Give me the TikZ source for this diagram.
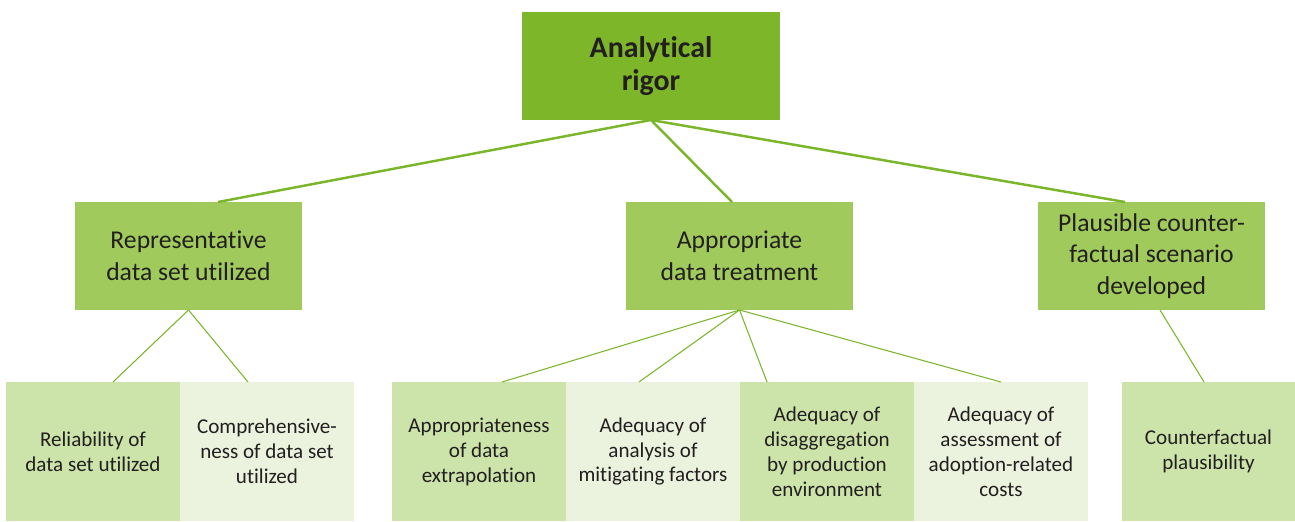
\documentclass[tikz,border=0pt]{standalone}
\usepackage{fontspec}
\setmainfont{Carlito}[Ligatures=NoCommon]
\usepackage{tikz}
\usetikzlibrary{shapes,positioning,calc}

\definecolor{rigorgreen}{HTML}{7DB729}
\definecolor{midgreen}{HTML}{A0CA5C}
\definecolor{lowdark}{HTML}{CCE3AA}
\definecolor{lowlight}{HTML}{EBF2DE}
\definecolor{linkgreen}{HTML}{7AB62A}
\definecolor{inktext}{HTML}{231F20}

\begin{document}
\begin{tikzpicture}[x=0.02cm, y=-0.02cm]
				\tikzstyle{Box} 	= [rectangle, inner sep=0pt, outer sep=0pt, align=center, text=inktext]
				\tikzstyle{Goal}	= [fill=rigorgreen, minimum width=5.16cm, minimum height=2.16cm, font=\fontsize{17}{18.7}\selectfont\bfseries]
				\tikzstyle{Aspect}	= [fill=midgreen, minimum width=4.53cm, minimum height=2.16cm, font=\fontsize{14.6}{18}\selectfont]
				\tikzstyle{Dark}	= [fill=lowdark, minimum width=3.48cm, minimum height=2.78cm, font=\fontsize{12}{14.2}\selectfont]
				\tikzstyle{Light}	= [fill=lowlight, minimum width=3.48cm, minimum height=2.78cm, font=\fontsize{12}{14.2}\selectfont]
				\tikzstyle{Upper}	= [line width=1.4pt, linkgreen]
				\tikzstyle{Lower}	= [line width=0.6pt, linkgreen]

				\useasboundingbox (0, 0) rectangle (1295, 521);

				\node (rigor) at (651, 66) [Box][Goal] {Analytical\\rigor};

				\node (rep) at (188.5, 256) [Box][Aspect] {Representative\\data set utilized};
				\node (treat) at (739.5, 256) [Box][Aspect] {Appropriate\\data treatment};
				\node (cf) at (1151.5, 256) [Box][Aspect] {Plausible counter-\\factual scenario\\developed};

				\node (rel) at (93, 451.5) [Box][Dark] {Reliability of\\data set utilized};
				\node (comp) at (267, 451.5) [Box][Light] {Comprehensive-\\ness of data set\\utilized};
				\node (extra) at (479, 451.5) [Box][Dark] {Appropriateness\\of data\\extrapolation};
				\node (mitig) at (653, 451.5) [Box][Light] {Adequacy of\\analysis of\\mitigating factors};
				\node (disag) at (827, 451.5) [Box][Dark] {Adequacy of\\disaggregation\\by production\\environment};
				\node (cost) at (1001, 451.5) [Box][Light] {Adequacy of\\assessment of\\adoption-related\\costs};
				\node (plaus) at (1208.5, 451.5) [Box][Dark] {Counterfactual\\plausibility};

				\draw [-] (rigor.south) to ($(rep.north)+(29.5,0)$) [Upper];
				\draw [-] (rigor.south) to ($(treat.north)+(-7.5,0)$) [Upper];
				\draw [-] (rigor.south) to ($(cf.north)+(-26.5,0)$) [Upper];

				\draw [-] (rep.south) to ($(rel.north)+(20,0)$) [Lower];
				\draw [-] (rep.south) to ($(comp.north)+(-19,0)$) [Lower];
				\draw [-] (treat.south) to ($(extra.north)+(23,0)$) [Lower];
				\draw [-] (treat.south) to ($(mitig.north)+(-14,0)$) [Lower];
				\draw [-] (treat.south) to ($(disag.north)+(-60,0)$) [Lower];
				\draw [-] (treat.south) to (cost.north) [Lower];
				\draw [-] ($(cf.south)+(8.5,0)$) to ($(plaus.north)+(-4.5,0)$) [Lower];
			\end{tikzpicture}
\end{document}
